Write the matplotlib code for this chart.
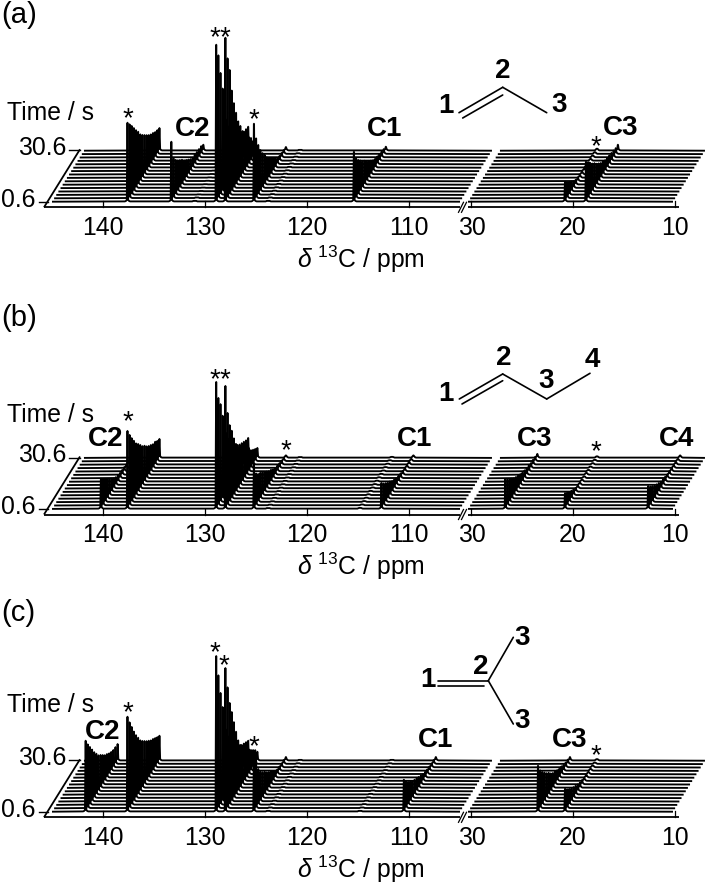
import matplotlib
matplotlib.use('Agg')
import matplotlib.pyplot as plt

plt.rcParams['font.family'] = ['Liberation Sans', 'DejaVu Sans']
plt.rcParams['mathtext.fontset'] = 'custom'
plt.rcParams['mathtext.rm'] = 'Liberation Sans'
plt.rcParams['mathtext.it'] = 'Liberation Sans:italic'
plt.rcParams['mathtext.bf'] = 'Liberation Sans:bold'

# 16 spectra, 0.6 to 30.6 s. Peak heights, front to back
# (a) propene
a_ppm = [137.6, 133.3, 131.0, 128.9, 128.0, 125.2, 123.8, 115.4, 20.75, 18.7]
a_137 = [79, 74, 69, 63.5, 58, 53, 47, 43, 39.5, 36, 32.7, 30, 28, 25.5, 24, 22.7]
a_133 = [60, 40, 35, 31, 28, 25, 21, 18, 15, 12, 10, 10, 9, 8.5, 8, 6]
a_131 = [0.8, 0.8, 0.5, 0.5, 0.5, 0.5, 0.5, 0.5, 0.5, 0.5, 0.5, 0.5, 0.5, 0.5, 0.5, 0.5]
a_129 = [157, 143, 122, 103, 83, 65, 55, 47, 41, 36, 32, 30, 28, 26, 25, 24]
a_128 = [164, 140, 125, 101, 85, 72, 60, 52, 43.5, 37, 31.7, 27.3, 23, 16.5, 10, 3]
a_125 = [78, 60, 50, 41.5, 35, 30, 24, 20, 16.5, 13, 9.7, 6, 5, 4.5, 4, 3.7]
a_124 = [0.8, 0.8, 0.8, 0.8, 0.8, 0.8, 0.8, 0.8, 0.8, 0.8, 0.8, 0.8, 0.8, 0.8, 0.8, 0.8]
a_115 = [50, 40, 35, 31, 27, 24, 20, 17, 14, 11, 9, 8, 7, 6, 5, 4]
a_21 = [20, 16, 13, 10, 7, 5, 4, 3, 3, 2.5, 2, 2, 2, 2, 2, 2]
a_19 = [40, 35, 32, 28, 25, 21, 18, 15, 13, 11, 10, 9, 8, 7, 6, 6]
a_heights = [a_137, a_133, a_131, a_129, a_128, a_125, a_124, a_115, a_21, a_19]

# (b) 1-butene
b_ppm = [140.2, 137.6, 128.9, 128.0, 125.2, 123.8, 114.8, 112.7, 26.6, 20.75, 12.6]
b_140 = [30, 26.5, 23, 19.8, 16.4, 13, 10, 8, 6.5, 5.5, 5, 4.5, 4, 4, 3.5, 3.5]
b_137 = [78, 70.6, 64, 58, 52, 48, 43.6, 39, 36, 32, 29, 26.6, 24, 23, 20.4, 19]
b_129 = [127, 107.6, 98, 83, 69, 59, 50, 43, 38, 34, 30, 27, 25, 23, 21, 20]
b_128 = [123, 92.6, 77, 68, 57, 48, 40.6, 36, 32, 28, 26, 23.6, 18, 15, 12.4, 10]
b_125 = [45, 32, 28, 26, 23, 20, 17, 14, 12, 9, 7, 6, 5, 4, 3, 2.5]
b_124 = [0.8, 0.8, 0.8, 0.8, 0.8, 0.8, 0.8, 0.8, 0.8, 0.8, 0.8, 0.8, 0.8, 0.8, 0.8, 0.8]
b_115 = [1, 1, 1, 1, 1, 1, 1, 1, 1, 1, 1, 1, 1, 1, 1, 1]
b_113 = [26, 22, 19, 16, 14, 11, 9, 7, 6, 5, 4, 3.5, 3, 3, 2.5, 2.5]
b_27 = [30, 26, 23, 20, 17, 15, 13, 11, 9, 8, 7, 6, 5, 5, 4.5, 4]
b_21 = [16, 13, 10, 8, 6, 4, 3, 2.5, 2, 2, 2, 1.5, 1.5, 1.5, 1.5, 1.5]
b_13 = [23, 19, 16, 13, 11, 9, 7, 6, 5, 4, 4, 3.5, 3, 3, 2.5, 2.5]
b_heights = [b_140, b_137, b_129, b_128, b_125, b_124, b_115, b_113, b_27, b_21, b_13]

# (c) isobutene
c_ppm = [141.7, 137.6, 128.9, 128.0, 125.2, 123.8, 114.8, 110.5, 23.4, 20.75]
c_142 = [71, 64, 58, 52, 46, 41, 36, 33, 29.5, 26, 23.7, 21, 19, 17.5, 17, 16.7]
c_137 = [95, 86, 78, 70, 63, 57, 51, 47, 43.5, 40, 37, 34, 32, 29.5, 27, 25]
c_129 = [155.7, 133, 112, 94.5, 77, 65, 55, 47, 41, 36, 32, 29, 26, 24, 22, 20]
c_128 = [143.7, 121, 102, 89.5, 76, 63, 51, 43, 36.5, 33, 29.7, 25, 21, 17.5, 14, 9]
c_125 = [61, 48, 36, 30, 26, 23, 19, 16, 13, 10, 7, 5, 4.5, 4, 4, 3.7]
c_124 = [0.8, 0.8, 0.8, 0.8, 0.8, 0.8, 0.8, 0.8, 0.8, 0.8, 0.8, 0.8, 0.8, 0.8, 0.8, 0.8]
c_115 = [0.8, 0.8, 0.8, 0.8, 0.8, 0.8, 0.8, 0.8, 0.8, 0.8, 0.8, 0.8, 0.8, 0.8, 0.8, 0.8]
c_110 = [32, 27, 23, 20, 17, 15, 13, 11, 9, 7, 6, 5, 4.5, 4, 4, 3.7]
c_23 = [46, 38, 33, 29, 25, 22, 18, 15, 13, 11, 9, 8, 6, 5, 4.5, 3.7]
c_21 = [23, 19, 16, 13, 11, 9, 7, 5.5, 4.5, 3.5, 3, 2.5, 2, 2, 1.5, 1.5]
c_heights = [c_142, c_137, c_129, c_128, c_125, c_124, c_115, c_110, c_23, c_21]

left_ticks = [140, 130, 120, 110]
right_ticks = [30, 20, 10]

W, H = 708, 885
LW = 1.35
TXT = 17.8
n_traces = 16
dy = 3.4     # px between spectra
dx = 2.13    # px shift per spectrum


def px(ppm):
    if ppm > 60:
        return 103 + (140 - ppm) * 10.2
    return 470.7 + (30 - ppm) * 10.2


def trace(ax, base, x0, x1, xs, hs):
    # one spectrum from x0 to x1 with narrow peaks, rounded at the foot
    xx = [x0]
    yy = [base]
    for x, h in zip(xs, hs):
        foot = [(2.6, 0.3), (1.5, 0.8), (0.7, 1.8)]
        for d, f in foot:
            xx.append(x - d)
            yy.append(base - min(f, h))
        xx += [x - 0.1, x + 0.1]
        yy += [base - h, base - h]
        for d, f in reversed(foot):
            xx.append(x + d)
            yy.append(base - min(f, h))
    xx.append(x1)
    yy.append(base)
    ax.plot(xx, yy, color='k', lw=LW, solid_joinstyle='bevel', solid_capstyle='butt')


def panel(ax, ppm, heights, axis_y):
    base0 = axis_y - 5.6
    left = [(p, h) for p, h in zip(ppm, heights) if p > 60]
    right = [(p, h) for p, h in zip(ppm, heights) if p < 60]
    for i in range(n_traces - 1, -1, -1):
        shift = i * dx
        base = base0 - i * dy
        trace(ax, base, 52 + shift, 460 + shift,
              [px(p) + shift for p, h in left], [h[i] for p, h in left])
        trace(ax, base, 468 + shift, 673 + shift,
              [px(p) + shift for p, h in right], [h[i] for p, h in right])

    # axes
    kw = dict(color='k', lw=1.3, solid_capstyle='butt')
    ax.plot([44, 459.5], [axis_y, axis_y], **kw)
    ax.plot([467.5, 679], [axis_y, axis_y], **kw)
    for t in left_ticks + right_ticks:
        ax.plot([px(t), px(t)], [axis_y, axis_y - 6], color='k', lw=0.9)
        ax.text(px(t) + (1 if t == 30 else 0), axis_y + 21, str(t), fontsize=TXT,
                ha='center', va='center')
    # axis break
    for off in (0, 3):
        ax.plot([458.5 + off, 463.5 + off], [axis_y + 5, axis_y - 5], color='k', lw=0.9)
    # time axis
    ax.plot([44, 80], [axis_y, axis_y - 58], **kw)
    ax.plot([39, 47.5], [axis_y - 5.2, axis_y - 5.2], color='k', lw=1)
    ax.plot([69, 79.5], [axis_y - 57, axis_y - 57], color='k', lw=1)
    ax.text(66, axis_y - 59.5, '30.6', fontsize=TXT, ha='right', va='center')
    ax.text(36, axis_y - 7.5, '0.6', fontsize=TXT, ha='right', va='center')
    ax.text(361, axis_y + 52, r'$\delta$ $^{13}$C / ppm', fontsize=TXT, ha='center', va='center')


def bold(ax, x, y, s):
    ax.text(x, y, s, fontsize=20, fontweight='bold', ha='center', va='center')


def star(ax, x, y):
    ax.text(x, y + 13, '*', fontsize=20, ha='center', va='baseline')


def bonds(ax, segs):
    for (x0, y0, x1, y1) in segs:
        ax.plot([x0, x1], [y0, y1], color='k', lw=1.2, solid_capstyle='round')


fig = plt.figure(figsize=(7.08, 8.85), dpi=100)
ax = fig.add_axes([0, 0, 1, 1])
ax.set_xlim(0, W)
ax.set_ylim(H, 0)
ax.axis('off')

panel(ax, a_ppm, a_heights, 207.3)
panel(ax, b_ppm, b_heights, 514.5)
panel(ax, c_ppm, c_heights, 817.3)

for s, y in zip(['(a)', '(b)', '(c)'], [15, 318, 613]):
    ax.text(1, y, s, fontsize=21, ha='left', va='center')
for y in [113, 415, 705]:
    ax.text(7, y, 'Time / s', fontsize=TXT, ha='left', va='center')

for x, y, s in [(193, 129, 'C2'), (385, 129, 'C1'), (621, 128, 'C3'),
                (106, 439, 'C2'), (415, 439, 'C1'), (535, 439, 'C3'), (677, 439, 'C4'),
                (103, 732, 'C2'), (436, 740, 'C1'), (570, 740, 'C3')]:
    bold(ax, x, y, s)

for x, y in [(128, 113), (215, 32), (225, 32), (254, 114), (596, 141),
             (128, 416), (215, 374), (225, 374), (286, 445), (596, 446),
             (128, 707), (215, 647), (224, 660), (254, 741), (596, 750)]:
    star(ax, x, y)

# molecules
bonds(ax, [(459, 112.7, 502.7, 87.3), (462.7, 118, 502.7, 95), (502.7, 87.3, 546.7, 112.7)])
bonds(ax, [(459.3, 399, 502.7, 374), (462, 404, 502.7, 380.7), (502.7, 374, 546.7, 399),
           (546.7, 399, 590, 373.3)])
bonds(ax, [(437.7, 680.7, 488.3, 680.7), (437.7, 686, 484.3, 686),
           (488.3, 680.7, 513.3, 637.3), (488.3, 680.7, 513.3, 724)])
for x, y, s in [(446, 106, '1'), (502.7, 70.7, '2'), (558.7, 105, '3'),
                (446, 394, '1'), (503.3, 358.3, '2'), (546, 380.7, '3'), (592.7, 360, '4'),
                (427.7, 680, '1'), (480.7, 666.7, '2'), (522.3, 638.3, '3'), (522.3, 720.7, '3')]:
    bold(ax, x, y, s)

fig.savefig('out.png', dpi=100)
